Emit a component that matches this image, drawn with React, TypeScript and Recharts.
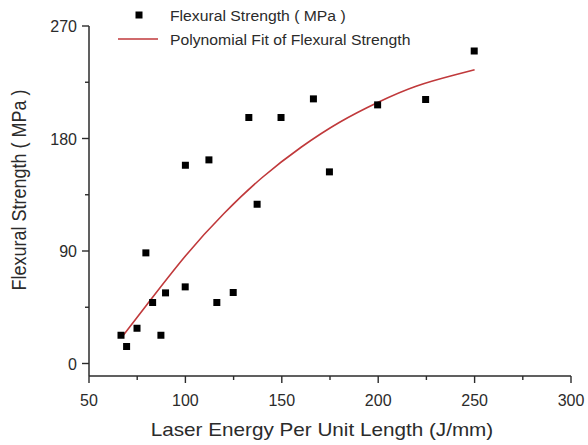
import { ComposedChart, Scatter, Line, XAxis, YAxis, Label } from 'recharts';

// measured points
const energy = [66.6, 69.5, 74.9, 79.5, 83, 87.3, 89.7, 99.9, 100, 112.2, 116.3, 124.8, 132.9, 137.2, 149.6, 166.4, 174.7, 199.7, 224.6, 249.8];
const strength = [22.6, 13.6, 28.2, 88.5, 48.8, 22.6, 56.5, 61.3, 158.6, 162.9, 48.8, 56.8, 196.8, 127.4, 196.8, 211.7, 153.3, 206.9, 211.2, 250];

// fitted curve
const fitEnergy = [67, 80, 100, 120, 140, 160, 180, 200, 220, 240, 250];
const fitStrength = [21, 47, 86, 120, 149, 173, 193, 209, 222, 231, 235];

const xTicks = [50, 75, 100, 125, 150, 175, 200, 225, 250, 275, 300];
const yTicks = [0, 45, 90, 135, 180, 225, 270];

const INK = '#2b2b2b';
const FIT_RED = '#c0393b';

const points = energy.map((x, i) => ({ x, y: strength[i] }));
const fit = fitEnergy.map((x, i) => ({ x, y: fitStrength[i] }));

const XTick = (props: any) => {
  const { x, y, payload } = props;
  const major = payload.value % 50 === 0;
  return (
    <g>
      <line x1={x} x2={x} y1={y} y2={y + (major ? 7 : 4)} stroke={INK} strokeWidth={1.4} />
      {major && (
        <text x={x} y={y + 30} textAnchor="middle" fontSize={16} fill={INK}>
          {payload.value}
        </text>
      )}
    </g>
  );
};

const YTick = (props: any) => {
  const { x, y, payload } = props;
  const major = payload.value % 90 === 0;
  return (
    <g>
      <line x1={x - (major ? 7 : 4)} x2={x} y1={y} y2={y} stroke={INK} strokeWidth={1.4} />
      {major && (
        <text x={x - 12} y={y + 6} textAnchor="end" fontSize={16} fill={INK}>
          {payload.value}
        </text>
      )}
    </g>
  );
};

// legend drawn as an overlay so it doesn't eat plot space
const LegendBox = () => (
  <svg
    width={440}
    height={50}
    style={{ position: 'absolute', left: 0, top: 0, display: 'block', pointerEvents: 'none' }}
  >
    <rect x={135.5} y={11.5} width={7} height={7} fill="#000" />
    <text transform="translate(170 20.5) scale(1.05 1)" fontSize={15} fill={INK}>
      Flexural Strength ( MPa )
    </text>
    <line x1={118} x2={158} y1={39} y2={39} stroke={FIT_RED} strokeWidth={1.6} />
    <text transform="translate(170 44.5) scale(1.05 1)" fontSize={15} fill={INK}>
      Polynomial Fit of Flexural Strength
    </text>
  </svg>
);

const Square = (props: any) => {
  const { cx, cy } = props;
  return <rect x={cx - 3.5} y={cy - 3.5} width={7} height={7} fill="#000" />;
};

export default function App() {
  return (
    <div
      style={{
        position: 'absolute',
        left: 0,
        top: 0,
        width: 588,
        height: 445,
        background: '#fff',
        fontFamily: "Arial, 'Liberation Sans', sans-serif",
      }}
    >
      <ComposedChart width={588} height={445} margin={{ top: 26, right: 17, bottom: 0, left: 0 }}>
        <XAxis
          type="number"
          dataKey="x"
          domain={[50, 300]}
          ticks={xTicks}
          interval={0}
          allowDataOverflow
          height={69}
          tickSize={0}
          tickMargin={0}
          tickLine={false}
          tick={<XTick />}
          axisLine={{ stroke: INK, strokeWidth: 1.5 }}
        >
          <Label
            content={() => (
              <text
                transform="translate(322 436) scale(1.15 1)"
                textAnchor="middle"
                fontSize={18}
                fill={INK}
              >
                Laser Energy Per Unit Length (J/mm)
              </text>
            )}
          />
        </XAxis>
        <YAxis
          type="number"
          dataKey="y"
          domain={[-10, 270]}
          ticks={yTicks}
          interval={0}
          allowDataOverflow
          width={89}
          tickSize={0}
          tickMargin={0}
          tickLine={false}
          tick={<YTick />}
          axisLine={{ stroke: INK, strokeWidth: 1.5 }}
        >
          <Label
            content={() => (
              <text
                transform="translate(26 190) rotate(-90) scale(1 1.12)"
                textAnchor="middle"
                fontSize={18}
                fill={INK}
              >
                Flexural Strength ( MPa )
              </text>
            )}
          />
        </YAxis>
        <Line
          data={fit}
          dataKey="y"
          type="natural"
          stroke={FIT_RED}
          strokeWidth={1.6}
          dot={false}
          isAnimationActive={false}
        />
        <Scatter data={points} dataKey="y" shape={<Square />} isAnimationActive={false} />
      </ComposedChart>
      <LegendBox />
    </div>
  );
}
